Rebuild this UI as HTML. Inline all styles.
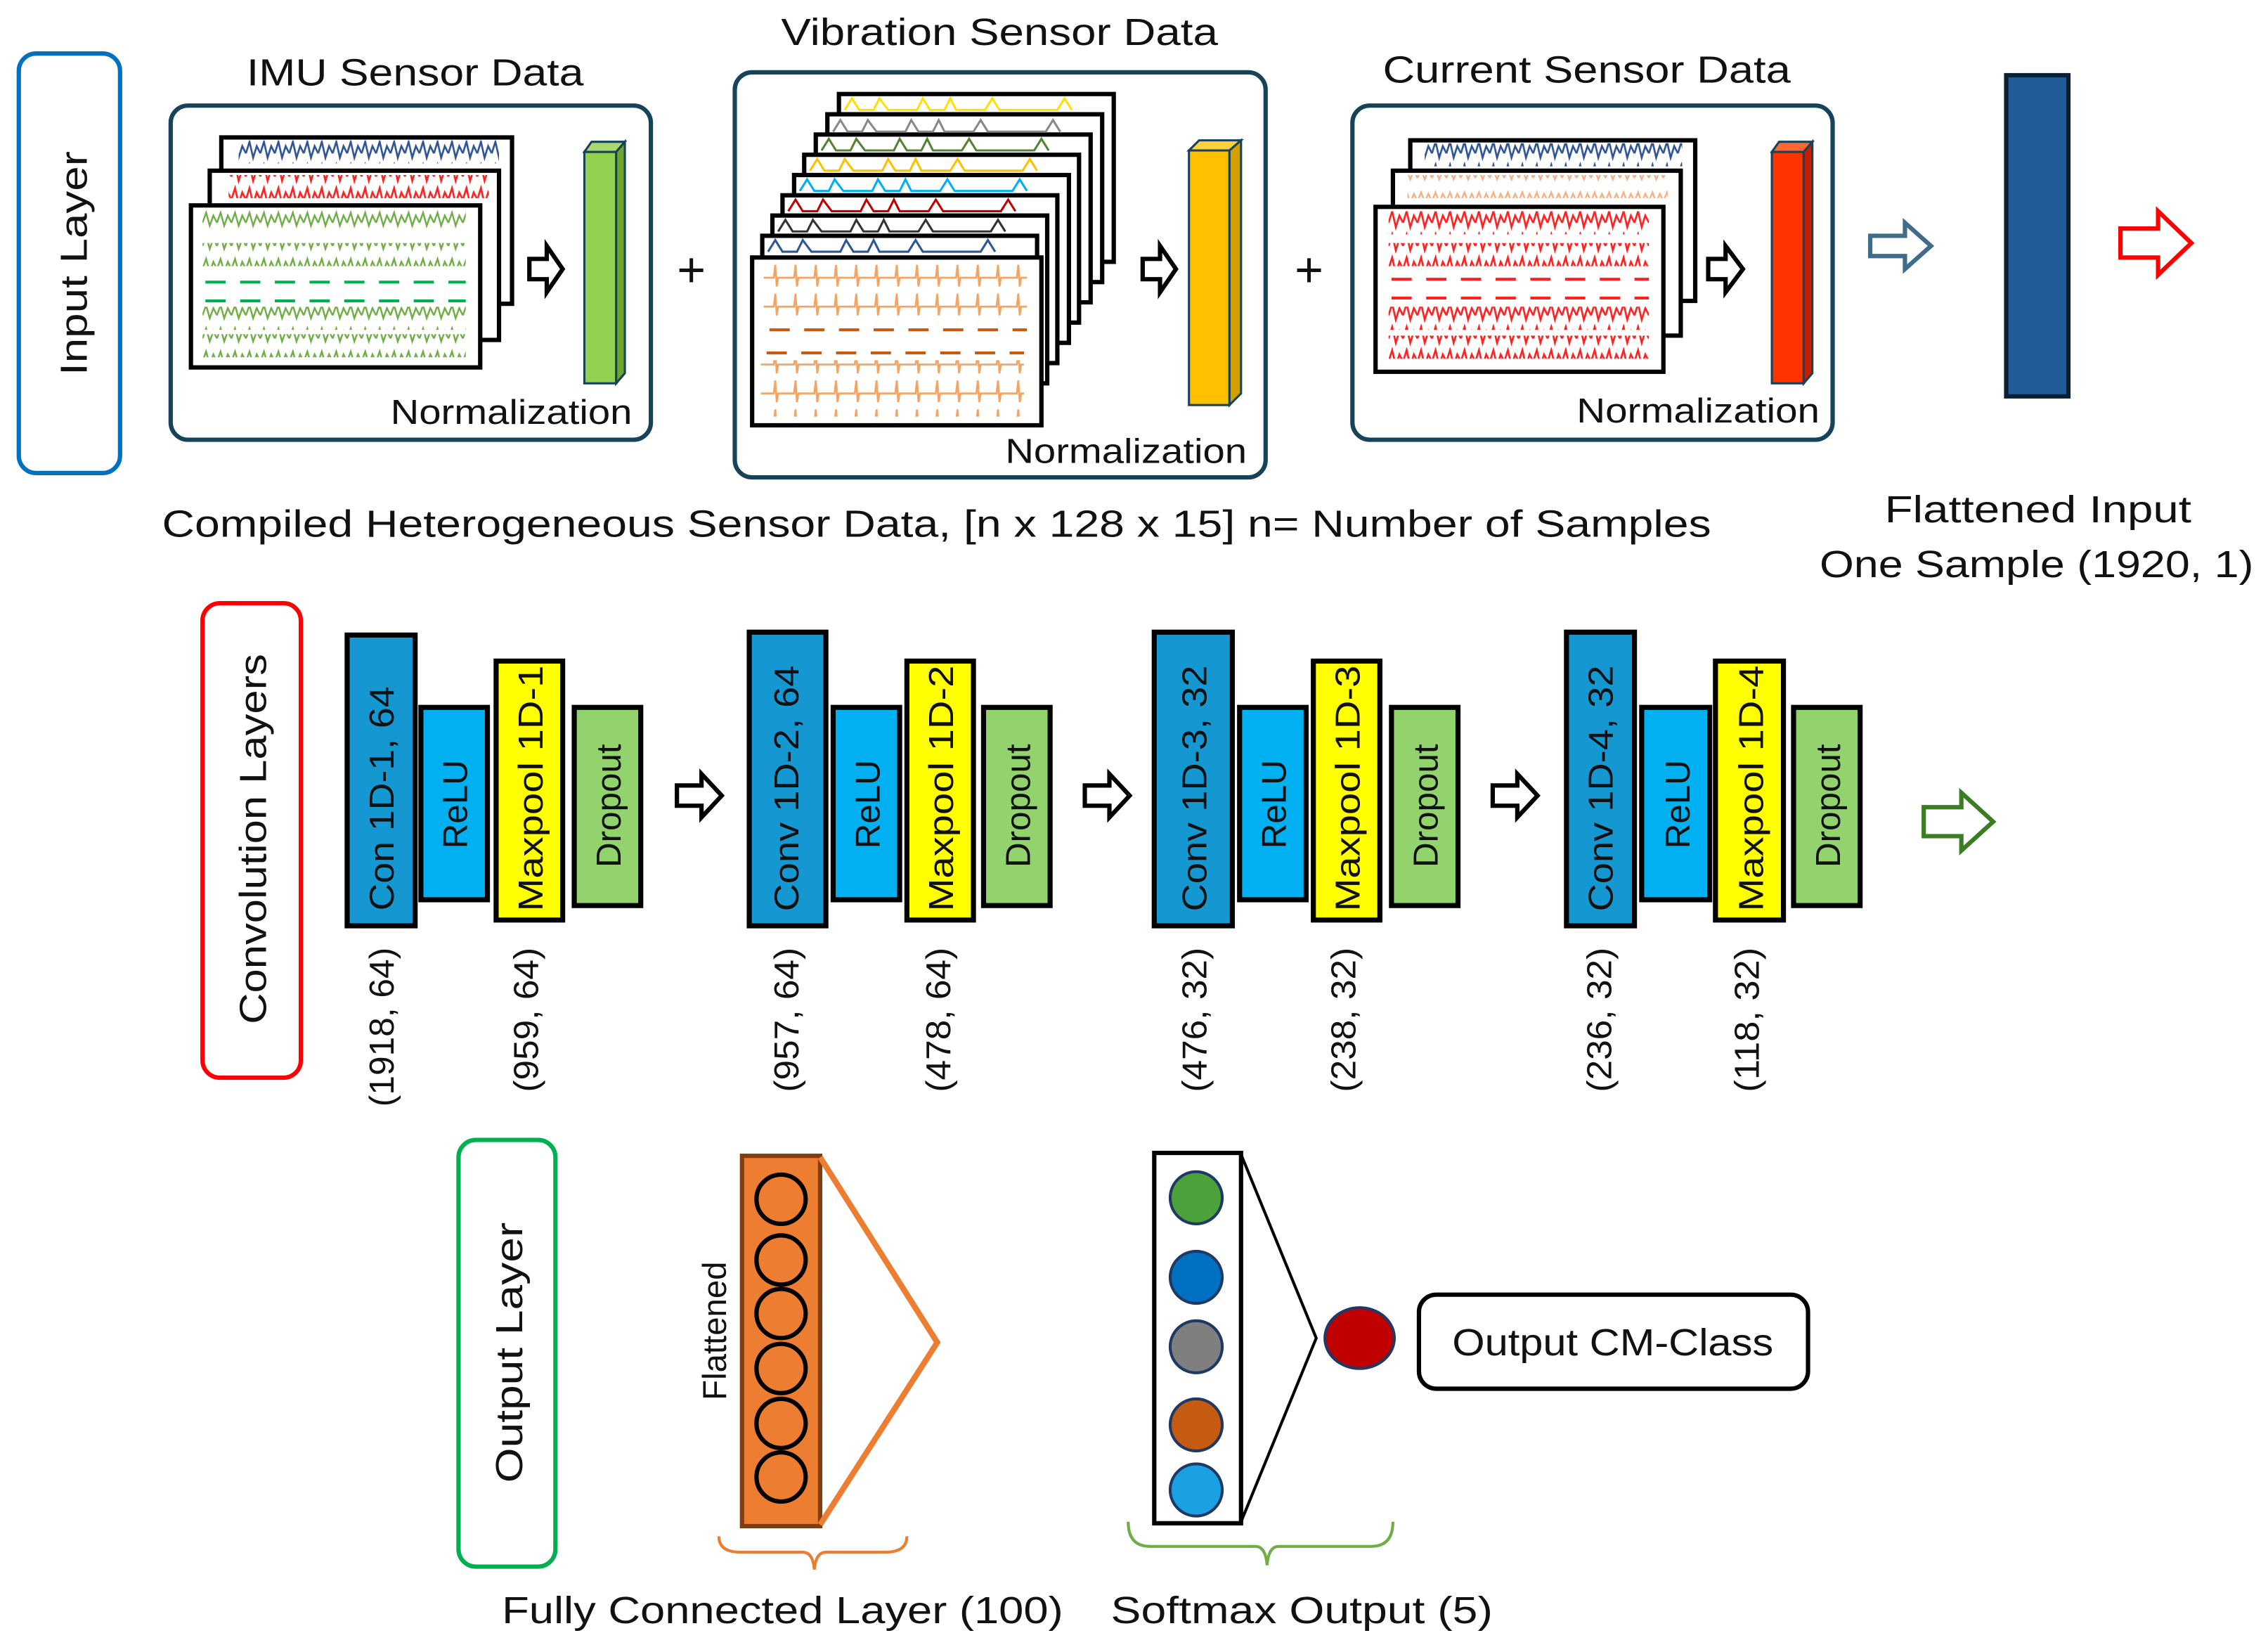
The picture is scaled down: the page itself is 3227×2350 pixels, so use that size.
<!DOCTYPE html>
<html><head><meta charset="utf-8"><style>
html,body{margin:0;padding:0;background:#fff;}
svg{display:block;}
text{font-family:"Liberation Sans",sans-serif;fill:#111;}
</style></head><body>
<svg width="3227" height="2350" viewBox="0 0 1568 1142" preserveAspectRatio="none" xmlns="http://www.w3.org/2000/svg">
<defs>
<pattern id="wb" width="10" height="16" patternUnits="userSpaceOnUse"><path d="M0,10 L2.5,2 L5,13 L7.5,5 L10,10" fill="none" stroke="#2F5597" stroke-width="1.3"/></pattern>
<pattern id="wr" width="10" height="16" patternUnits="userSpaceOnUse"><path d="M0,10 L2.5,2 L5,13 L7.5,5 L10,10" fill="none" stroke="#FF2020" stroke-width="1.3"/></pattern>
<pattern id="wg" width="10" height="16" patternUnits="userSpaceOnUse"><path d="M0,10 L2.5,3 L5,12 L7.5,5 L10,10" fill="none" stroke="#70AD47" stroke-width="1.2"/></pattern>
<pattern id="wo" width="14" height="20" patternUnits="userSpaceOnUse"><path d="M0,12 L3,12 L4,3 L5,18 L6,12 L14,12" fill="none" stroke="#F4A460" stroke-width="1.3"/></pattern>
<pattern id="wlo" width="10" height="16" patternUnits="userSpaceOnUse"><path d="M0,11 L2.5,5 L5,12 L7.5,6 L10,11" fill="none" stroke="#F4B183" stroke-width="1.2"/></pattern>
</defs>

<!-- INPUT LAYER -->
<rect x="13" y="37" width="70" height="290" rx="12" fill="none" stroke="#0070C0" stroke-width="3"/>
<text transform="translate(60,182) rotate(-90)" text-anchor="middle" font-size="26" textLength="155" lengthAdjust="spacingAndGlyphs">Input  Layer</text>

<!-- IMU -->
<text x="287" y="59" text-anchor="middle" font-size="26" textLength="233" lengthAdjust="spacingAndGlyphs">IMU Sensor Data</text>
<rect x="118" y="73" width="332" height="231" rx="12" fill="#fff" stroke="#17435A" stroke-width="3"/>
<rect x="153" y="95" width="201" height="115" fill="#fff" stroke="#000" stroke-width="3"/>
<rect x="165" y="97" width="180" height="16" fill="url(#wb)"/>
<rect x="145" y="118" width="200" height="117" fill="#fff" stroke="#000" stroke-width="3"/>
<rect x="158" y="121" width="180" height="16" fill="url(#wr)"/>
<rect x="132" y="142" width="200" height="112" fill="#fff" stroke="#000" stroke-width="3"/>
<rect x="140" y="144" width="182" height="16" fill="url(#wg)"/>
<rect x="140" y="168" width="182" height="16" fill="url(#wg)"/>
<line x1="142" y1="195" x2="322" y2="195" stroke="#00B050" stroke-width="2" stroke-dasharray="14,10"/>
<line x1="142" y1="208" x2="322" y2="208" stroke="#00B050" stroke-width="2" stroke-dasharray="14,10"/>
<rect x="140" y="212" width="182" height="16" fill="url(#wg)"/>
<rect x="140" y="231" width="182" height="16" fill="url(#wg)"/>
<path d="M366,179 L378,179 L378,170 L389,186 L378,202 L378,193 L366,193 Z" fill="#fff" stroke="#000" stroke-width="3"/>
<rect x="404" y="105" width="22" height="160" fill="#92D050" stroke="#17435A" stroke-width="1.5"/>
<path d="M404,105 L409,98 L432,98 L426,105 Z" fill="#A9D86E" stroke="#17435A" stroke-width="1.5"/>
<path d="M426,105 L432,98 L432,258 L426,265 Z" fill="#6EA52E" stroke="#17435A" stroke-width="1.5"/>
<text x="270" y="293" font-size="24" textLength="167" lengthAdjust="spacingAndGlyphs">Normalization</text>
<text x="478" y="198" text-anchor="middle" font-size="34">+</text>

<!-- VIBRATION -->
<text x="691" y="31" text-anchor="middle" font-size="26" textLength="302" lengthAdjust="spacingAndGlyphs">Vibration Sensor Data</text>
<rect x="508" y="50" width="367" height="280" rx="12" fill="#fff" stroke="#17435A" stroke-width="3"/>
<g stroke="#000" stroke-width="3" fill="#fff">
<rect x="580" y="65" width="190" height="116"/>
<rect x="572" y="79" width="190" height="116"/>
<rect x="564" y="93" width="190" height="116"/>
<rect x="556" y="107" width="190" height="116"/>
<rect x="549" y="121" width="190" height="116"/>
<rect x="541" y="135" width="190" height="116"/>
<rect x="534" y="149" width="190" height="116"/>
<rect x="527" y="163" width="190" height="116"/>
</g>
<g stroke-width="1.5" fill="none">
<path d="M584,76 l5,-8 l5,8 l10,0 l4,-8 l6,8 l20,0 l4,-8 l5,8 l10,0 l4,-8 l4,8 l20,0 l5,-8 l5,8 l40,0 l5,-8 l5,8" stroke="#FFE000"/>
<path d="M576,91 l5,-8 l5,8 l10,0 l4,-8 l6,8 l20,0 l4,-8 l5,8 l10,0 l4,-8 l4,8 l20,0 l5,-8 l5,8 l40,0 l5,-8 l5,8" stroke="#888"/>
<path d="M568,104 l5,-8 l5,8 l10,0 l4,-8 l6,8 l20,0 l4,-8 l5,8 l10,0 l4,-8 l4,8 l20,0 l5,-8 l5,8 l40,0 l5,-8 l5,8" stroke="#548235"/>
<path d="M560,118 l5,-8 l5,8 l10,0 l4,-8 l6,8 l20,0 l4,-8 l5,8 l10,0 l4,-8 l4,8 l20,0 l5,-8 l5,8 l40,0 l5,-8 l5,8" stroke="#FFC000"/>
<path d="M553,132 l5,-8 l5,8 l10,0 l4,-8 l6,8 l20,0 l4,-8 l5,8 l10,0 l4,-8 l4,8 l20,0 l5,-8 l5,8 l40,0 l5,-8 l5,8" stroke="#00B0F0"/>
<path d="M545,146 l5,-8 l5,8 l10,0 l4,-8 l6,8 l20,0 l4,-8 l5,8 l10,0 l4,-8 l4,8 l20,0 l5,-8 l5,8 l40,0 l5,-8 l5,8" stroke="#C00000"/>
<path d="M538,160 l5,-8 l5,8 l10,0 l4,-8 l6,8 l20,0 l4,-8 l5,8 l10,0 l4,-8 l4,8 l20,0 l5,-8 l5,8 l40,0 l5,-8 l5,8" stroke="#333"/>
<path d="M531,174 l5,-8 l5,8 l10,0 l4,-8 l6,8 l20,0 l4,-8 l5,8 l10,0 l4,-8 l4,8 l20,0 l5,-8 l5,8 l40,0 l5,-8 l5,8" stroke="#2F5597"/>
</g>
<rect x="520" y="178" width="200" height="116" fill="#fff" stroke="#000" stroke-width="3"/>
<rect x="528" y="183" width="182" height="20" fill="url(#wo)"/>
<rect x="528" y="203" width="182" height="20" fill="url(#wo)"/>
<line x1="532" y1="228" x2="710" y2="228" stroke="#C55A11" stroke-width="2" stroke-dasharray="14,10"/>
<line x1="530" y1="244" x2="708" y2="244" stroke="#C55A11" stroke-width="2" stroke-dasharray="14,10"/>
<rect x="526" y="249" width="182" height="20" fill="url(#wo)"/>
<rect x="526" y="268" width="182" height="20" fill="url(#wo)"/>
<path d="M790,179 L802,179 L802,170 L813,186 L802,202 L802,193 L790,193 Z" fill="#fff" stroke="#000" stroke-width="3"/>
<rect x="822" y="104" width="28" height="176" fill="#FFC000" stroke="#17435A" stroke-width="1.5"/>
<path d="M822,104 L829,97 L858,97 L850,104 Z" fill="#FFD040" stroke="#17435A" stroke-width="1.5"/>
<path d="M850,104 L858,97 L858,272 L850,280 Z" fill="#D4A000" stroke="#17435A" stroke-width="1.5"/>
<text x="695" y="320" font-size="24" textLength="167" lengthAdjust="spacingAndGlyphs">Normalization</text>
<text x="905" y="198" text-anchor="middle" font-size="34">+</text>

<!-- CURRENT -->
<text x="1097" y="57" text-anchor="middle" font-size="26" textLength="282" lengthAdjust="spacingAndGlyphs">Current Sensor Data</text>
<rect x="935" y="73" width="332" height="231" rx="12" fill="#fff" stroke="#17435A" stroke-width="3"/>
<rect x="975" y="97" width="197" height="111" fill="#fff" stroke="#000" stroke-width="3"/>
<rect x="985" y="99" width="178" height="16" fill="url(#wb)"/>
<rect x="963" y="118" width="199" height="114" fill="#fff" stroke="#000" stroke-width="3"/>
<rect x="973" y="121" width="180" height="16" fill="url(#wlo)"/>
<rect x="951" y="143" width="199" height="114" fill="#fff" stroke="#000" stroke-width="3"/>
<rect x="960" y="146" width="180" height="16" fill="url(#wr)"/>
<rect x="960" y="168" width="180" height="16" fill="url(#wr)"/>
<line x1="962" y1="193" x2="1140" y2="193" stroke="#FF2020" stroke-width="2" stroke-dasharray="14,10"/>
<line x1="962" y1="206" x2="1140" y2="206" stroke="#FF2020" stroke-width="2" stroke-dasharray="14,10"/>
<rect x="960" y="212" width="180" height="16" fill="url(#wr)"/>
<rect x="960" y="232" width="180" height="16" fill="url(#wr)"/>
<path d="M1181,179 L1193,179 L1193,170 L1205,186 L1193,202 L1193,193 L1181,193 Z" fill="#fff" stroke="#000" stroke-width="3"/>
<rect x="1225" y="105" width="22" height="160" fill="#FF3300" stroke="#17435A" stroke-width="1.5"/>
<path d="M1225,105 L1230,98 L1253,98 L1247,105 Z" fill="#FF6633" stroke="#17435A" stroke-width="1.5"/>
<path d="M1247,105 L1253,98 L1253,258 L1247,265 Z" fill="#C02000" stroke="#17435A" stroke-width="1.5"/>
<text x="1090" y="292" font-size="24" textLength="168" lengthAdjust="spacingAndGlyphs">Normalization</text>

<!-- flatten -->
<path d="M1293,163 L1317,163 L1317,154 L1335,170 L1317,186 L1317,177 L1293,177 Z" fill="#fff" stroke="#3E6C8A" stroke-width="3"/>
<rect x="1387" y="52" width="43" height="222" fill="#1F5C99" stroke="#0B1F33" stroke-width="3"/>
<path d="M1466,158 L1492,158 L1492,146 L1515,168 L1492,190 L1492,178 L1466,178 Z" fill="#fff" stroke="#FF0000" stroke-width="3"/>
<text x="112" y="371" font-size="26" textLength="1071" lengthAdjust="spacingAndGlyphs">Compiled Heterogeneous Sensor Data,  [n x 128 x 15]  n= Number of Samples</text>
<text x="1303" y="361" font-size="26" textLength="212" lengthAdjust="spacingAndGlyphs">Flattened Input</text>
<text x="1258" y="399" font-size="26" textLength="300" lengthAdjust="spacingAndGlyphs">One Sample (1920, 1)</text>

<!-- CONV -->
<rect x="140" y="417" width="68" height="328" rx="12" fill="none" stroke="#FF0000" stroke-width="3"/>
<text transform="translate(184,580) rotate(-90)" text-anchor="middle" font-size="26" textLength="256" lengthAdjust="spacingAndGlyphs">Convolution  Layers</text>
<g stroke="#000" stroke-width="3.5">
<rect x="240" y="439" width="47" height="201" fill="#1597D2"/>
<rect x="291" y="489" width="46" height="133" fill="#00B0F0"/>
<rect x="343" y="457" width="46" height="179" fill="#FFFF00"/>
<rect x="397" y="489" width="46" height="137" fill="#92D36E"/>
<rect x="518" y="437" width="53" height="203" fill="#1597D2"/>
<rect x="576" y="489" width="46" height="133" fill="#00B0F0"/>
<rect x="627" y="457" width="46" height="179" fill="#FFFF00"/>
<rect x="680" y="489" width="46" height="137" fill="#92D36E"/>
<rect x="798" y="437" width="54" height="203" fill="#1597D2"/>
<rect x="857" y="489" width="46" height="133" fill="#00B0F0"/>
<rect x="908" y="457" width="46" height="179" fill="#FFFF00"/>
<rect x="962" y="489" width="46" height="137" fill="#92D36E"/>
<rect x="1083" y="437" width="47" height="203" fill="#1597D2"/>
<rect x="1135" y="489" width="47" height="133" fill="#00B0F0"/>
<rect x="1186" y="457" width="47" height="179" fill="#FFFF00"/>
<rect x="1240" y="489" width="46" height="137" fill="#92D36E"/>
</g>
<g font-size="24">
<text transform="translate(272,552) rotate(-90)" text-anchor="middle" textLength="155" lengthAdjust="spacingAndGlyphs">Con 1D-1, 64</text>
<text transform="translate(323,556) rotate(-90)" text-anchor="middle">ReLU</text>
<text transform="translate(375,545) rotate(-90)" text-anchor="middle" textLength="170" lengthAdjust="spacingAndGlyphs">Maxpool 1D-1</text>
<text transform="translate(429,557) rotate(-90)" text-anchor="middle">Dropout</text>
<text transform="translate(552,545) rotate(-90)" text-anchor="middle" textLength="170" lengthAdjust="spacingAndGlyphs">Conv 1D-2, 64</text>
<text transform="translate(608,556) rotate(-90)" text-anchor="middle">ReLU</text>
<text transform="translate(659,545) rotate(-90)" text-anchor="middle" textLength="170" lengthAdjust="spacingAndGlyphs">Maxpool 1D-2</text>
<text transform="translate(712,557) rotate(-90)" text-anchor="middle">Dropout</text>
<text transform="translate(834,545) rotate(-90)" text-anchor="middle" textLength="170" lengthAdjust="spacingAndGlyphs">Conv 1D-3, 32</text>
<text transform="translate(889,556) rotate(-90)" text-anchor="middle">ReLU</text>
<text transform="translate(940,545) rotate(-90)" text-anchor="middle" textLength="170" lengthAdjust="spacingAndGlyphs">Maxpool 1D-3</text>
<text transform="translate(994,557) rotate(-90)" text-anchor="middle">Dropout</text>
<text transform="translate(1115,545) rotate(-90)" text-anchor="middle" textLength="170" lengthAdjust="spacingAndGlyphs">Conv 1D-4, 32</text>
<text transform="translate(1168,556) rotate(-90)" text-anchor="middle">ReLU</text>
<text transform="translate(1219,545) rotate(-90)" text-anchor="middle" textLength="170" lengthAdjust="spacingAndGlyphs">Maxpool 1D-4</text>
<text transform="translate(1272,557) rotate(-90)" text-anchor="middle">Dropout</text>
</g>
<g font-size="24">
<text transform="translate(272,710) rotate(-90)" text-anchor="middle" textLength="110" lengthAdjust="spacingAndGlyphs">(1918, 64)</text>
<text transform="translate(372,705) rotate(-90)" text-anchor="middle" textLength="100" lengthAdjust="spacingAndGlyphs">(959, 64)</text>
<text transform="translate(552,705) rotate(-90)" text-anchor="middle" textLength="100" lengthAdjust="spacingAndGlyphs">(957, 64)</text>
<text transform="translate(657,705) rotate(-90)" text-anchor="middle" textLength="100" lengthAdjust="spacingAndGlyphs">(478, 64)</text>
<text transform="translate(834,705) rotate(-90)" text-anchor="middle" textLength="100" lengthAdjust="spacingAndGlyphs">(476, 32)</text>
<text transform="translate(937,705) rotate(-90)" text-anchor="middle" textLength="100" lengthAdjust="spacingAndGlyphs">(238, 32)</text>
<text transform="translate(1114,705) rotate(-90)" text-anchor="middle" textLength="100" lengthAdjust="spacingAndGlyphs">(236, 32)</text>
<text transform="translate(1216,705) rotate(-90)" text-anchor="middle" textLength="100" lengthAdjust="spacingAndGlyphs">(118, 32)</text>
</g>
<g fill="#fff" stroke="#000" stroke-width="3">
<path d="M468,543 L485,543 L485,535 L499,550 L485,565 L485,557 L468,557 Z"/>
<path d="M750,543 L767,543 L767,535 L781,550 L767,565 L767,557 L750,557 Z"/>
<path d="M1032,543 L1049,543 L1049,535 L1063,550 L1049,565 L1049,557 L1032,557 Z"/>
</g>
<path d="M1330,558 L1356,558 L1356,548 L1378,568 L1356,588 L1356,578 L1330,578 Z" fill="#fff" stroke="#3A7D22" stroke-width="3"/>

<!-- OUTPUT -->
<rect x="317" y="788" width="67" height="295" rx="12" fill="none" stroke="#00B050" stroke-width="3"/>
<text transform="translate(361,935) rotate(-90)" text-anchor="middle" font-size="26" textLength="180" lengthAdjust="spacingAndGlyphs">Output  Layer</text>
<text transform="translate(502,920) rotate(-90)" text-anchor="middle" font-size="23">Flattened</text>
<rect x="513" y="799" width="54" height="256" fill="#ED7D31" stroke="#843C0C" stroke-width="3"/>
<g fill="none" stroke="#000" stroke-width="3">
<circle cx="540" cy="829" r="17"/><circle cx="540" cy="871" r="17"/><circle cx="540" cy="908" r="17"/>
<circle cx="540" cy="946" r="17"/><circle cx="540" cy="984" r="17"/><circle cx="540" cy="1021" r="17"/>
</g>
<path d="M567,800 L648,928 L567,1054" fill="none" stroke="#ED7D31" stroke-width="4"/>
<path d="M497,1062 Q497,1073 512,1073 L555,1073 Q562,1073 563,1085 Q564,1073 571,1073 L612,1073 Q627,1073 627,1062" fill="none" stroke="#ED7D31" stroke-width="2"/>
<rect x="798" y="797" width="60" height="256" fill="#fff" stroke="#000" stroke-width="3"/>
<g stroke="#1F3864" stroke-width="2">
<circle cx="827" cy="828" r="18" fill="#4CA23A"/>
<circle cx="827" cy="883" r="18" fill="#0070C0"/>
<circle cx="827" cy="931" r="18" fill="#7F7F7F"/>
<circle cx="827" cy="985" r="18" fill="#C55A11"/>
<circle cx="827" cy="1030" r="18" fill="#1BA1E2"/>
</g>
<path d="M858,798 L910,925 L858,1052" fill="none" stroke="#000" stroke-width="2"/>
<ellipse cx="940" cy="925" rx="24" ry="21" fill="#C00000" stroke="#1F3864" stroke-width="2"/>
<rect x="981" y="895" width="269" height="65" rx="12" fill="#fff" stroke="#000" stroke-width="3"/>
<text x="1004" y="937" font-size="26" textLength="222" lengthAdjust="spacingAndGlyphs">Output CM-Class</text>
<path d="M780,1052 Q780,1069 795,1069 L868,1069 Q875,1069 876,1082 Q877,1069 884,1069 L948,1069 Q963,1069 963,1052" fill="none" stroke="#70AD47" stroke-width="2"/>
<text x="347" y="1122" font-size="26" textLength="388" lengthAdjust="spacingAndGlyphs">Fully Connected Layer (100)</text>
<text x="768" y="1122" font-size="26" textLength="264" lengthAdjust="spacingAndGlyphs">Softmax Output (5)</text>
</svg>
</body></html>
